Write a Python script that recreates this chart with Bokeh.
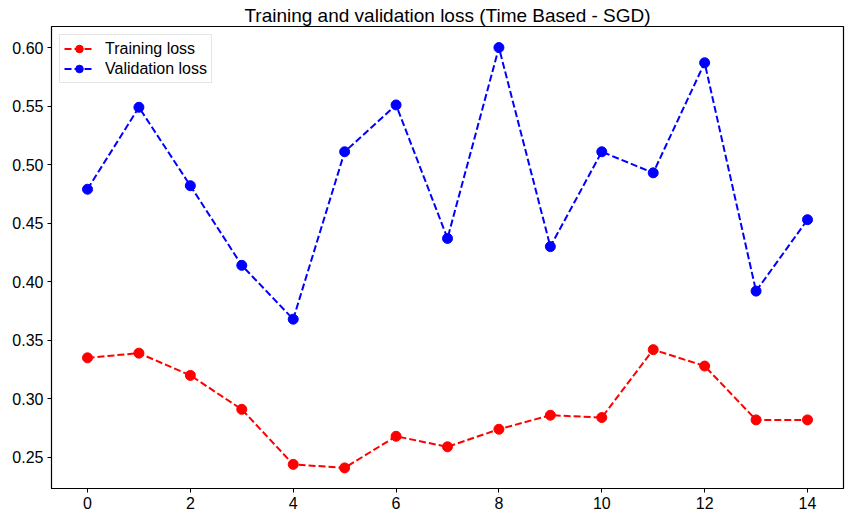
from bokeh.plotting import figure
from bokeh.models import Range1d, FixedTicker, Legend, LegendItem, NumeralTickFormatter
from bokeh.embed import file_html
from bokeh.resources import INLINE

epochs = list(range(15))
training_loss = [0.335, 0.339, 0.320, 0.291, 0.244, 0.241, 0.268, 0.259, 0.274, 0.286, 0.284, 0.342, 0.328, 0.282, 0.282]
validation_loss = [0.479, 0.549, 0.482, 0.414, 0.368, 0.511, 0.551, 0.437, 0.600, 0.430, 0.511, 0.493, 0.587, 0.392, 0.453]
x_ticks = [0, 2, 4, 6, 8, 10, 12, 14]
y_ticks = [0.25, 0.30, 0.35, 0.40, 0.45, 0.50, 0.55, 0.60]
title = "Training and validation loss (Time Based - SGD)"

FONT = "Liberation Sans"

p = figure(width=845, height=519, output_backend="svg", toolbar_location=None,
           x_range=Range1d(-0.7, 14.7), y_range=Range1d(0.2234, 0.618),
           min_border_left=51, min_border_right=2, min_border_top=26, min_border_bottom=31)
p.title.text = title
p.title.align = "center"
p.title.text_font = FONT
p.title.text_font_size = "19px"
p.title.text_font_style = "normal"
p.title.text_color = "black"
p.title.standoff = 2
p.title.offset = 0

p.xgrid.visible = False
p.ygrid.visible = False
p.outline_line_color = "black"
p.outline_line_width = 1.2

for ax in (p.xaxis[0], p.yaxis[0]):
    ax.axis_line_color = "black"
    ax.major_tick_line_color = "black"
    ax.major_tick_out = 4
    ax.major_tick_in = 0
    ax.minor_tick_line_color = None
    ax.major_label_text_font = FONT
    ax.major_label_text_font_size = "16px"
    ax.major_label_text_color = "black"
    ax.major_label_standoff = 4
p.xaxis[0].ticker = FixedTicker(ticks=x_ticks)
p.yaxis[0].ticker = FixedTicker(ticks=y_ticks)
p.yaxis[0].formatter = NumeralTickFormatter(format="0.00")

tl = p.line(epochs, training_loss, color="red", line_width=2, line_dash="7 3")
ts = p.scatter(epochs, training_loss, color="red", size=10)
vl = p.line(epochs, validation_loss, color="blue", line_width=2, line_dash="7 3")
vs = p.scatter(epochs, validation_loss, color="blue", size=10)

legend = Legend(items=[LegendItem(label="Training loss", renderers=[tl, ts]),
                       LegendItem(label="Validation loss", renderers=[vl, vs])],
                location="top_left")
legend.label_text_font = FONT
legend.label_text_font_size = "16px"
legend.label_text_color = "black"
legend.border_line_color = "#cccccc"
legend.border_line_width = 1
legend.margin = 8
legend.padding = 4
legend.spacing = 1
legend.glyph_width = 30
legend.label_standoff = 11
legend.label_height = 19
legend.glyph_height = 19
p.add_layout(legend)

open("out.html", "w").write(file_html(p, INLINE))
